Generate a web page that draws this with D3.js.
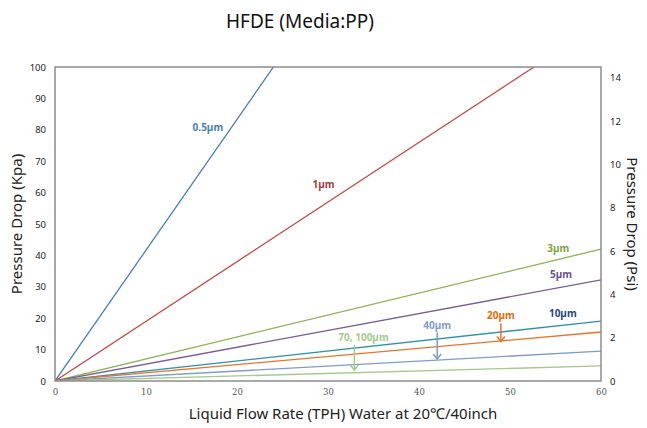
<!DOCTYPE html>
<html>
<head>
<meta charset="utf-8">
<script src="https://cdn.jsdelivr.net/npm/d3@7"></script>
<style>
  body { margin: 0; background: #fff; }
  svg text { font-family: "Noto Sans", "Open Sans", sans-serif; }
</style>
</head>
<body>
<div id="chart"></div>
<script>
// filter grades and pressure drop (Kpa) at 0 and 60 TPH
var grades = ["0.5µm", "1µm", "3µm", "5µm", "10µm", "20µm", "40µm", "70, 100µm"];
var flowPoints = [0, 60];
var dropAt60 = [250, 114, 42, 32.2, 19.1, 15.6, 9.5, 4.8];
var colors = ["#4a7ebb", "#be4b48", "#8eb04f", "#7a5c9e", "#2e93a8", "#e8742a", "#7f9ccc", "#a6c98a"];
var kpaTicks = [0, 10, 20, 30, 40, 50, 60, 70, 80, 90, 100];
var psiTicks = [0, 2, 4, 6, 8, 10, 12, 14];
var flowTicks = [0, 10, 20, 30, 40, 50, 60];

// labels: [grade index, label x (TPH), label y (Kpa), arrow tip y or null, label colour, arrow x (TPH)]
var labels = [
  [0, 16.8, 79.5, null, "#4a7ebb", null],
  [1, 29.5, 61.5, null, "#a0413e", null],
  [2, 55.3, 41.0, null, "#7ea33d", null],
  [3, 55.6, 32.8, null, "#6b4f8e", null],
  [4, 55.8, 20.4, null, "#1f497d", null],
  [5, 49.0, 19.6, 12.6, "#e46c0a", 49.0],
  [6, 42.0, 16.7, 7.0, "#7f9ccc", 42.0],
  [7, 33.9, 12.8, 3.5, "#a6c98a", 32.9]
];

var margin = {top: 67, right: 46, bottom: 47, left: 55},
    width = 647 - margin.left - margin.right,
    height = 428 - margin.top - margin.bottom;

var x = d3.scaleLinear().domain([0, 60]).range([0, width]);
var y = d3.scaleLinear().domain([0, 100]).range([height, 0]);
var y2 = d3.scaleLinear().domain([0, 100 / 6.895]).range([height, 0]);

var svg = d3.select("#chart").append("svg")
    .attr("width", 647)
    .attr("height", 428);

var g = svg.append("g")
    .attr("transform", "translate(" + margin.left + "," + margin.top + ")");

svg.append("defs").append("clipPath").attr("id", "clip")
  .append("rect").attr("width", width).attr("height", height);

// title
svg.append("text")
    .attr("x", 300).attr("y", 28)
    .attr("text-anchor", "middle")
    .style("font-size", "19px")
    .attr("fill", "#111")
    .text("HFDE (Media:PP)");

// lines
var line = d3.line()
    .x(function(d) { return x(d[0]); })
    .y(function(d) { return y(d[1]); });

var series = grades.map(function(name, i) {
  return flowPoints.map(function(f) { return [f, dropAt60[i] * f / 60]; });
});

g.append("g").attr("clip-path", "url(#clip)")
  .selectAll("path")
  .data(series)
  .enter().append("path")
    .attr("fill", "none")
    .attr("stroke", function(d, i) { return colors[i]; })
    .attr("stroke-width", 1.3)
    .attr("d", line);

// frame
g.append("rect")
    .attr("width", width).attr("height", height)
    .attr("fill", "none")
    .attr("stroke", "#8c8c8c")
    .attr("stroke-width", 1.5);

// axes (labels only, no tick marks)
var left = g.append("g").call(d3.axisLeft(y).tickValues(kpaTicks).tickSize(0).tickPadding(9));
var right = g.append("g").attr("transform", "translate(" + width + ",0)")
    .call(d3.axisRight(y2).tickValues(psiTicks).tickSize(0).tickPadding(9));
var bottom = g.append("g").attr("transform", "translate(0," + height + ")")
    .call(d3.axisBottom(x).tickValues(flowTicks).tickSize(0).tickPadding(8));

[left, right, bottom].forEach(function(a) {
  a.select(".domain").remove();
  a.selectAll("text").attr("fill", "#222").style("font-size", "9.5px");
});
bottom.selectAll("text").style("font-family", "'DejaVu Serif', 'Liberation Serif', serif").style("font-size", "8.5px").attr("fill", "#555");

// axis titles
svg.append("text")
    .attr("transform", "translate(22," + (margin.top + height / 2) + ") rotate(-90)")
    .attr("text-anchor", "middle")
    .style("font-size", "15px")
    .attr("fill", "#222")
    .text("Pressure Drop (Kpa)");

svg.append("text")
    .attr("transform", "translate(627," + (margin.top + height / 2) + ") rotate(90)")
    .attr("text-anchor", "middle")
    .style("font-size", "15px")
    .attr("fill", "#222")
    .text("Pressure Drop (Psi)");

svg.append("text")
    .attr("x", 343).attr("y", 419)
    .attr("text-anchor", "middle")
    .style("font-size", "15px")
    .attr("fill", "#222")
    .text("Liquid Flow Rate (TPH) Water at 20℃/40inch");

// series labels
g.selectAll(".lbl")
  .data(labels)
  .enter().append("text")
    .attr("class", "lbl")
    .attr("x", function(d) { return x(d[1]); })
    .attr("y", function(d) { return y(d[2]); })
    .attr("text-anchor", "middle")
    .style("font-size", "10px")
    .style("font-weight", "bold")
    .attr("fill", function(d) { return d[4]; })
    .text(function(d) { return grades[d[0]]; });

// arrows under some labels
var arrows = labels.filter(function(d) { return d[3] !== null; });
var ax = function(d) { return x(d[5]); };

g.selectAll(".arr")
  .data(arrows)
  .enter().append("line")
    .attr("x1", ax).attr("x2", ax)
    .attr("y1", function(d) { return y(d[2]) + 4; })
    .attr("y2", function(d) { return y(d[3]); })
    .attr("stroke", function(d) { return colors[d[0]]; })
    .attr("stroke-width", 1.5);

g.selectAll(".head")
  .data(arrows)
  .enter().append("path")
    .attr("fill", "none")
    .attr("stroke", function(d) { return colors[d[0]]; })
    .attr("stroke-width", 1.5)
    .attr("d", function(d) {
      var px = ax(d), py = y(d[3]);
      return "M" + (px - 4) + "," + (py - 5) + "L" + px + "," + py + "L" + (px + 4) + "," + (py - 5);
    });
</script>
</body>
</html>
